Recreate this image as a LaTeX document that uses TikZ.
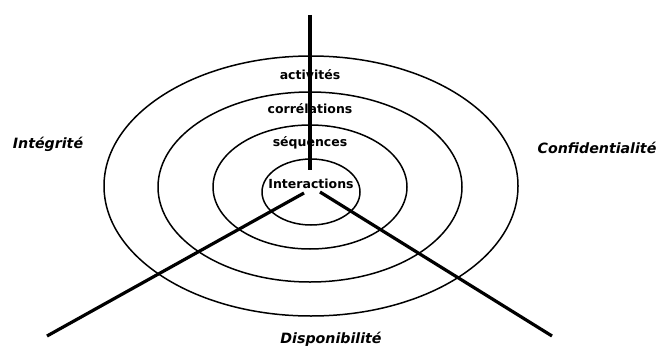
\documentclass[tikz,border=0pt]{standalone}
\usepackage{fontspec}
\setmainfont{DejaVu Sans}
\begin{document}
\begin{tikzpicture}[x=1pt,y=-1pt,
  ring/.style={draw=black,line width=1.5pt},
  axis/.style={draw=black,line width=3.2pt},
  lvl/.style={font=\fontsize{12.5}{14}\selectfont\bfseries,inner sep=0pt},
  prop/.style={font=\fontsize{14.2}{16}\selectfont\bfseries\itshape,inner sep=0pt}]
\useasboundingbox (0,0) rectangle (660,345);
\coordinate (c) at (311,187);
\draw[ring] (311,186) ellipse [x radius=207, y radius=130];
\draw[ring] (310,187) ellipse [x radius=152, y radius=95];
\draw[ring] (310,187) ellipse [x radius=97, y radius=62];
\draw[ring] (311,192) ellipse [x radius=49, y radius=33];
\node[lvl] (act) at (310,75) {activités};
\node[lvl] (cor) at (310,109) {corrélations};
\node[lvl] (seq) at (310,143) {séquences};
\coordinate (top) at (310,15);
\coordinate (topend) at (310,170);
\coordinate (lstart) at (304,193);
\coordinate (lend) at (47,336);
\coordinate (rstart) at (320,192);
\coordinate (rend) at (552,336);
\draw[axis] (top) -- (topend);
\draw[axis] (lstart) -- (lend);
\draw[axis] (rstart) -- (rend);
\node[lvl] (int) at (311,184) {Interactions};
\node[prop] (integ) at (48,144) {Intégrité};
\node[prop] (conf) at (597,148) {Confidentialité};
\node[prop] (disp) at (331,339) {Disponibilité};
\end{tikzpicture}
\end{document}
